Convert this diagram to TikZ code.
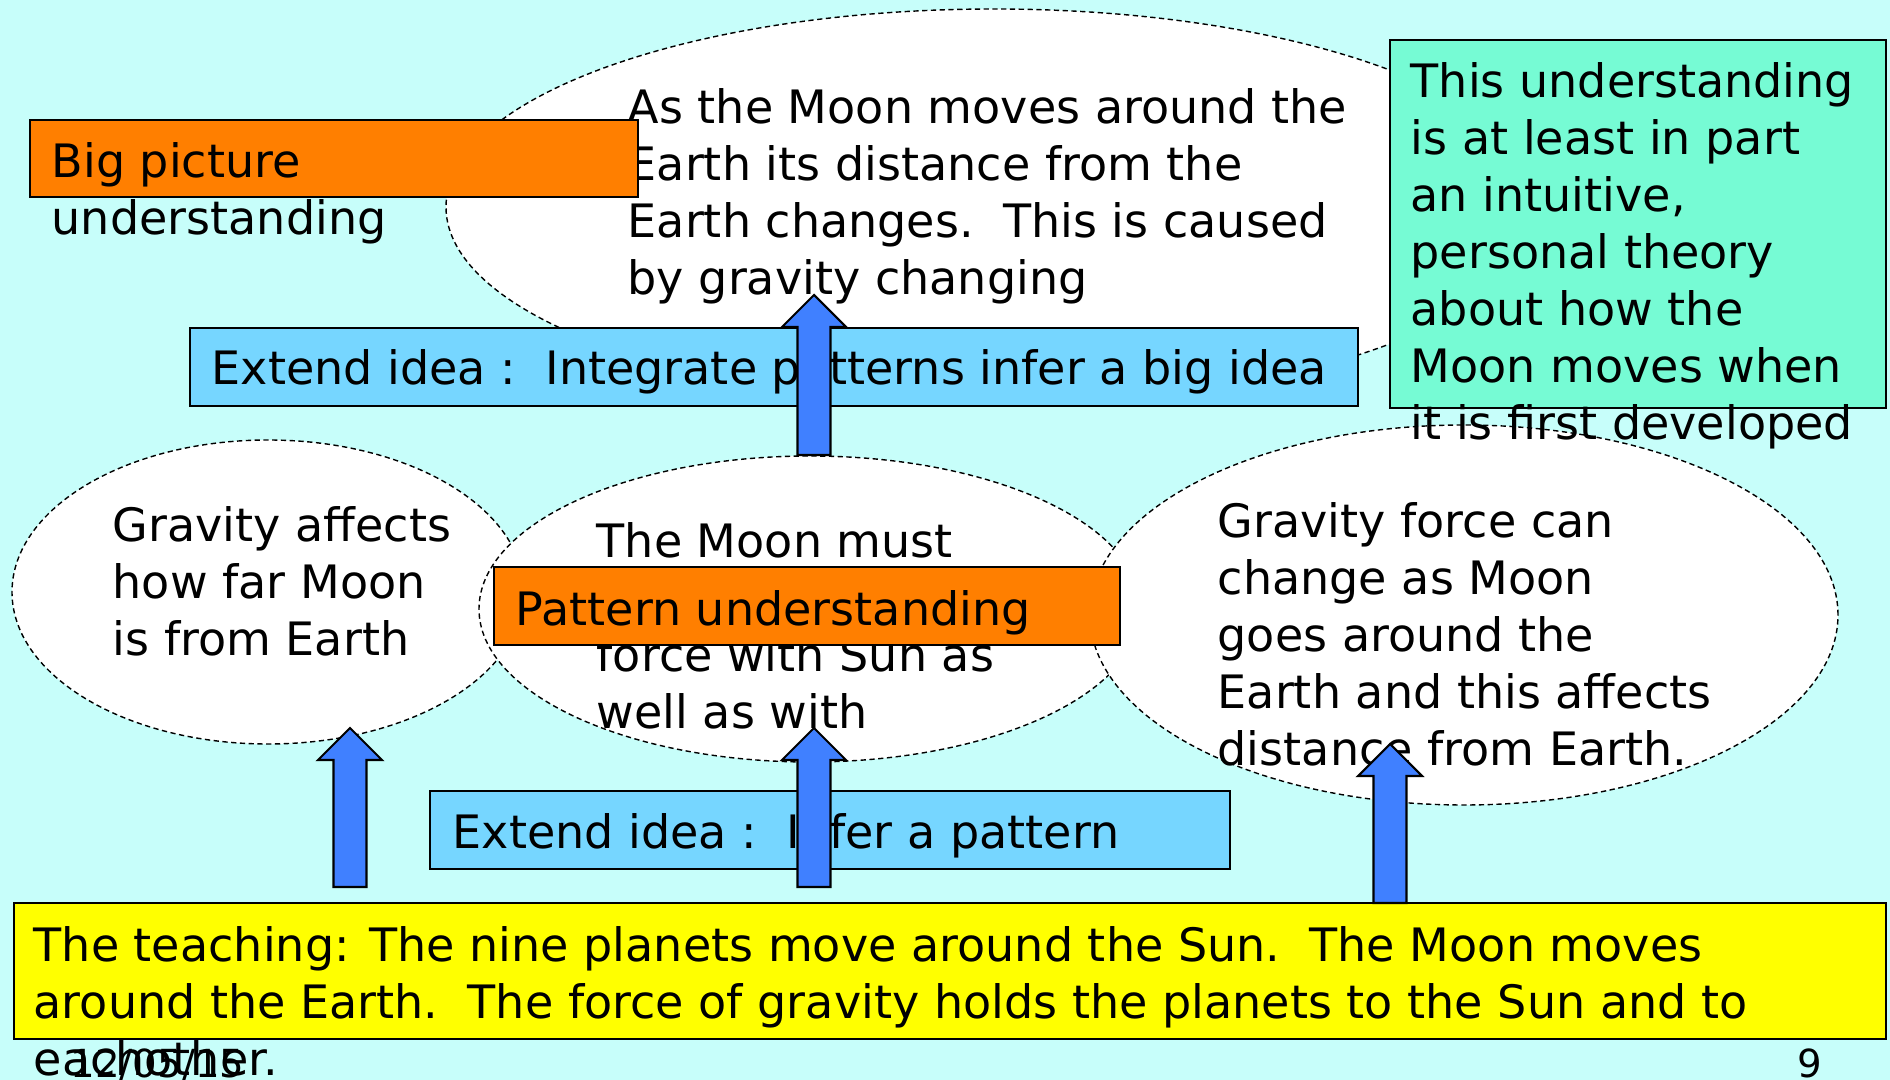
\documentclass[tikz,border=0pt]{standalone}
\usepackage{fontspec}
\setmainfont{DejaVu Sans}
\usepackage{tikz}
\usetikzlibrary{calc}
\definecolor{slidebg}{RGB}{199,254,250}
\definecolor{bigblock}{RGB}{255,127,0}
\definecolor{ideablock}{RGB}{118,214,255}
\definecolor{noteblock}{RGB}{118,251,212}
\definecolor{teachblock}{RGB}{255,255,0}
\definecolor{arrowblue}{RGB}{64,128,255}

\newcommand{\slidefont}{\fontsize{13.1}{16.2}\selectfont}
\newcommand{\footfont}{\fontsize{11}{13}\selectfont}
% block arrow pointing up, from #1 (foot) to #2 (tip)
\newcommand{\upblock}[2]{%
	\filldraw[blockarrow] let \p1=(#1), \p2=(#2) in
		(\x1-4.7pt,\y1) -- (\x1-4.7pt,\y2-9.1pt) -- (\x1-9.1pt,\y2-9.1pt) -- (\x1,\y2)
		-- (\x1+9.1pt,\y2-9.1pt) -- (\x1+4.7pt,\y2-9.1pt) -- (\x1+4.7pt,\y1) -- cycle;}

\begin{document}
\begin{tikzpicture}[
		bubble/.style={fill=white, draw=black, line width=0.4pt, dash pattern=on 1.5pt off 1pt},
		boxed/.style={draw=black, line width=0.6pt},
		blockarrow/.style={fill=arrowblue, draw=black, line width=0.6pt},
		txt/.style={anchor=north west, inner sep=0pt, align=left, font=\slidefont, execute at begin node=\strut},
		foot/.style={anchor=base west, inner sep=0pt, font=\footfont}]
			\useasboundingbox (0,0) rectangle (18.9,-10.8);
			\fill[slidebg] (0,0) rectangle (18.9,-10.8);

			% Bubbles
			\filldraw[bubble] (9.94,-2.07) ellipse [x radius=5.48, y radius=1.98];
			\filldraw[bubble] (2.68,-5.92) ellipse [x radius=2.56, y radius=1.52];
			\filldraw[bubble] (8.10,-6.09) ellipse [x radius=3.31, y radius=1.53];
			\filldraw[bubble] (14.64,-6.15) ellipse [x radius=3.74, y radius=1.90];

			\node[txt] (bigidea) at (6.27,-0.88) {As the Moon moves around the\\Earth its distance from the\\Earth changes.\ \ This is caused\\by gravity changing};
			\node[txt] (affects) at (1.12,-5.06) {Gravity affects\\how far Moon\\is from Earth};
			\node[txt] (must) at (5.96,-5.22) {The Moon must\\\mbox{}\\force with Sun as\\well as with};
			\node[txt] (canchange) at (12.17,-5.02) {Gravity force can\\change as Moon\\goes around the\\Earth and this affects\\distance from Earth.};

			% Levels
			\filldraw[boxed, fill=bigblock] (0.30,-1.20) rectangle (6.38,-1.97);
			\node[txt] (biglevel) at (0.51,-1.42) {Big picture\\understanding};
			\filldraw[boxed, fill=bigblock] (4.94,-5.67) rectangle (11.20,-6.45);
			\node[txt] (patlevel) at (5.15,-5.85) {Pattern understanding};

			% Extend steps
			\filldraw[boxed, fill=ideablock] (1.90,-3.28) rectangle (13.58,-4.06);
			\node[txt] (integrate) at (2.11,-3.44) {Extend idea :\ \ Integrate patterns infer a big idea};
			\filldraw[boxed, fill=ideablock] (4.30,-7.91) rectangle (12.30,-8.69);
			\node[txt] (infer) at (4.52,-8.08) {Extend idea :\ \ Infer a pattern};

			% Note
			\filldraw[boxed, fill=noteblock] (13.90,-0.40) rectangle (18.86,-4.08);
			\node[txt] (intuitive) at (14.10,-0.62) {This understanding\\is at least in part\\an intuitive,\\personal theory\\about how the\\Moon moves when\\it is first developed};

			% Teaching
			\filldraw[boxed, fill=teachblock] (0.14,-9.03) rectangle (18.86,-10.39);
			\node[txt] (teaching) at (0.33,-9.26) {The teaching: The nine planets move around the Sun.\ \ The Moon moves\\around the Earth.\ \ The force of gravity holds the planets to the Sun and to\\eachother.};

			% Arrows
			\coordinate (footA) at (3.50,-8.87);
			\coordinate (tipA) at (3.50,-7.28);
			\coordinate (footB) at (8.14,-8.87);
			\coordinate (tipB) at (8.14,-7.28);
			\coordinate (footC) at (13.90,-9.03);
			\coordinate (tipC) at (13.90,-7.44);
			\coordinate (footD) at (8.14,-4.55);
			\coordinate (tipD) at (8.14,-2.95);
			\upblock{footA}{tipA}
			\upblock{footB}{tipB}
			\upblock{footC}{tipC}
			\upblock{footD}{tipD}

			\node[foot] (date) at (0.70,-10.77) {12/05/15};
			\node[foot] (page) at (17.97,-10.77) {9};

		\end{tikzpicture}
\end{document}
